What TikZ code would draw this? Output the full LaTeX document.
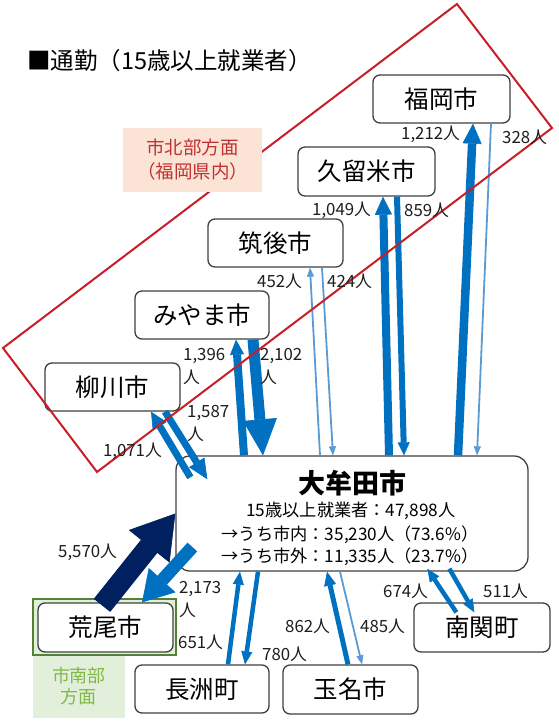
\documentclass[tikz,border=0pt]{standalone}
\usepackage{fontspec}
\setmainfont{Noto Sans CJK JP}
\usetikzlibrary{arrows.meta}
\definecolor{tblue}{RGB}{0,112,192}
\definecolor{lblue}{RGB}{91,155,213}
\definecolor{navyb}{RGB}{0,32,96}
\definecolor{redl}{RGB}{200,30,40}
\definecolor{salmon}{RGB}{251,228,214}
\definecolor{tred}{RGB}{192,50,50}
\definecolor{lgreen}{RGB}{226,239,218}
\definecolor{dgreen}{RGB}{84,130,53}
\definecolor{tgreen}{RGB}{130,185,70}
\definecolor{nodeb}{RGB}{64,64,64}
\definecolor{lblc}{RGB}{30,30,30}
\tikzset{
  city/.style={draw=nodeb, line width=1.3pt, rounded corners=7pt, fill=white,
    inner sep=0pt, font=\fontsize{24.5}{28}\selectfont},
  ar/.style n args={4}{draw=#1, line width=#2, line cap=butt,
    -{Triangle[width=#3,length=#4,line width=0.6pt]}},
  lbl/.style={inner sep=0pt, anchor=west, text=lblc, align=left,
    font=\fontsize{16.8}{23}\selectfont},
  omline/.style={inner sep=0pt, text=black, font=\fontsize{17.2}{20}\selectfont},
}
\begin{document}
\begin{tikzpicture}[x=1pt,y=-1pt]
\useasboundingbox (0,0) rectangle (558,721);
\fill[white] (0,0) rectangle (558,721);

% title
\node[anchor=west, inner sep=0pt, font=\fontsize{23.5}{26}\selectfont] (title) at (27,61) {■通勤（15歳以上就業者）};

% south area background
\fill[lgreen] (33,599) rectangle (125,718);
\draw[dgreen, line width=1.6pt, fill=lgreen] (33,599) rectangle (176,655);
\node[inner sep=0pt, align=center, text=tgreen, font=\fontsize{18}{21}\selectfont] (south) at (79,686) {市南部\\方面};

% city nodes
\node[city, minimum width=137pt, minimum height=48pt] (fuk) at (441.5,99) {福岡市};
\node[city, minimum width=137pt, minimum height=49pt] (kur) at (366.5,171.5) {久留米市};
\node[city, minimum width=135pt, minimum height=48pt] (chi) at (275.5,243) {筑後市};
\node[city, minimum width=134pt, minimum height=48pt] (miy) at (202,315) {みやま市};
\node[city, minimum width=135pt, minimum height=48pt] (yan) at (112.5,387) {柳川市};
\node[city, minimum width=352pt, minimum height=115pt, rounded corners=14pt] (omuta) at (352,513.5) {};
\node[city, minimum width=135pt, minimum height=49pt] (arao) at (105.5,627.5) {荒尾市};
\node[city, minimum width=134pt, minimum height=48pt] (nag) at (202,689) {長洲町};
\node[city, minimum width=135pt, minimum height=49pt] (tam) at (350.5,689.5) {玉名市};
\node[city, minimum width=136pt, minimum height=49pt] (nan) at (482,627.5) {南関町};

% omuta text
\node[inner sep=0pt, font=\fontsize{27}{30}\selectfont\bfseries] (omutaT) at (352,483) {大牟田市};
\node[omline] (omutaA) at (351,511) {15歳以上就業者：47,898人};
\node[omline] (omutaB) at (350,535) {→うち市内：35,230人（73.6\%）};
\node[omline] (omutaC) at (350,557) {→うち市外：11,335人（23.7\%）};

% arrows north
\draw[ar={tblue}{8.5pt}{19pt}{20pt}] (458,0 |- omuta.north) -- (473,0 |- fuk.south);
\draw[ar={lblue}{1.8pt}{7pt}{9pt}] (491,0 |- fuk.south) -- (477,0 |- omuta.north);
\draw[ar={tblue}{8pt}{17pt}{18pt}] (389,0 |- omuta.north) -- (383,0 |- kur.south);
\draw[ar={tblue}{6pt}{12pt}{13pt}] (397,0 |- kur.south) -- (404,0 |- omuta.north);
\draw[ar={lblue}{1.8pt}{7pt}{9pt}] (320,0 |- omuta.north) -- (310,0 |- chi.south);
\draw[ar={lblue}{1.8pt}{7pt}{9pt}] (322,0 |- chi.south) -- (333,0 |- omuta.north);
\draw[ar={tblue}{8pt}{14pt}{15pt}] (244,0 |- omuta.north) -- (236,0 |- miy.south);
\draw[ar={tblue}{11pt}{34pt}{36pt}] (253,0 |- miy.south) -- (263,0 |- omuta.north);
\draw[ar={tblue}{7pt}{16pt}{17pt}] ([xshift=15pt,yshift=-22pt]omuta.north west) -- (151,0 |- yan.south);
\draw[ar={tblue}{7pt}{18pt}{20pt}] (165,0 |- yan.south) -- ([xshift=32pt,yshift=-24pt]omuta.north west);

% arrows south
\draw[ar={navyb}{21pt}{52pt}{42pt}] ([xshift=-3.5pt,yshift=-3pt]arao.north) -- (omuta.west);
\draw[ar={tblue}{13pt}{36pt}{30pt}] ([xshift=17pt,yshift=-33.5pt]omuta.west) -- (142,0 |- arao.north);
\draw[ar={tblue}{4.5pt}{11pt}{13pt}] (228,0 |- nag.north) -- (240,0 |- omuta.south);
\draw[ar={tblue}{4.5pt}{11pt}{13pt}] (258,0 |- omuta.south) -- (245,0 |- nag.north);
\draw[ar={tblue}{5pt}{12pt}{14pt}] (348,0 |- tam.north) -- (327,0 |- omuta.south);
\draw[ar={lblue}{1.8pt}{7pt}{9pt}] (340,0 |- omuta.south) -- (362,0 |- tam.north);
\draw[ar={tblue}{4.5pt}{11pt}{13pt}] ([xshift=43pt,yshift=-10pt]nan.north west) -- ([xshift=252pt,yshift=3pt]omuta.south west);
\draw[ar={tblue}{4.5pt}{11pt}{13pt}] ([xshift=274pt,yshift=3pt]omuta.south west) -- ([xshift=61pt,yshift=-10pt]nan.north west);

% red region
\draw[redl, line width=2pt, line join=miter] (457,4) -- (552,128) -- (97,472) -- (3,348) -- cycle;
\node[fill=salmon, inner sep=0pt, minimum width=139pt, minimum height=64pt, text=tred, align=center,
  font=\fontsize{18.5}{24}\selectfont] (north) at (192.5,160) {市北部方面\\（福岡県内）};

% labels
\node[lbl] (l1212) at (401,134) {1,212人};
\node[lbl] (l328) at (502,137) {328人};
\node[lbl] (l1049) at (312,210) {1,049人};
\node[lbl] (l859) at (404,210) {859人};
\node[lbl] (l452) at (257,281) {452人};
\node[lbl] (l424) at (327,281) {424人};
\node[lbl] (l1396) at (183,366.5) {1,396\\人};
\node[lbl] (l2102) at (260,366.5) {2,102\\人};
\node[lbl] (l1587) at (187,423.5) {1,587\\人};
\node[lbl, anchor=east] (l1071) at (162,451) {1,071人};
\node[lbl] (l5570) at (58,552) {5,570人};
\node[lbl] (l2173) at (179,599) {2,173\\人};
\node[lbl] (l651) at (178,642) {651人};
\node[lbl] (l780) at (262,654) {780人};
\node[lbl] (l862) at (285,626) {862人};
\node[lbl] (l485) at (360,626) {485人};
\node[lbl] (l674) at (383,591) {674人};
\node[lbl] (l511) at (483,591) {511人};
\end{tikzpicture}
\end{document}
